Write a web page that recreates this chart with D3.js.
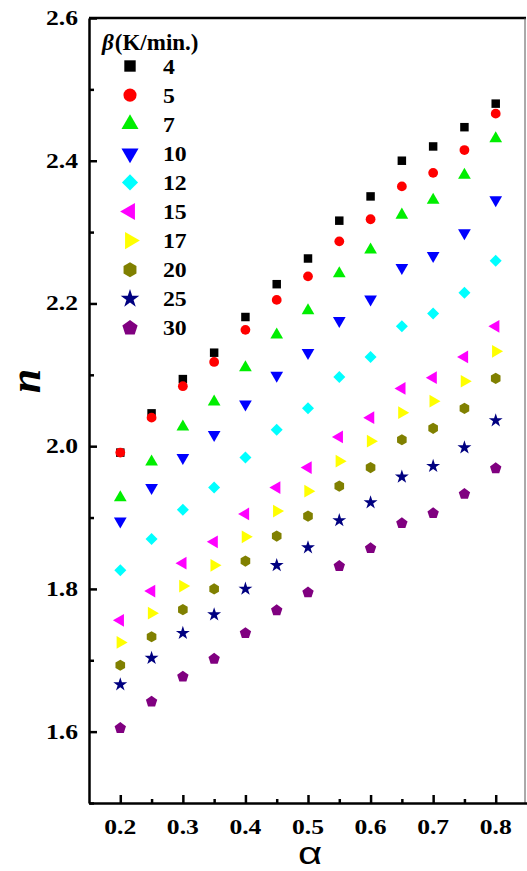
<!DOCTYPE html>
<html>
<head>
<meta charset="utf-8">
<script src="https://cdn.jsdelivr.net/npm/d3@7"></script>
<style>
  body { margin: 0; background: #fff; }
  svg { display: block; }
  .tick_lbl { font-family: "Liberation Serif", "Times New Roman", serif; font-weight: bold; font-size: 20px; }
  .leg_lbl { font-family: "Liberation Serif", "Times New Roman", serif; font-weight: bold; font-size: 22px; }
</style>
</head>
<body>
<svg id="chart" width="527" height="871"></svg>
<script>
/* Werte */
var alpha_vals = [0.20, 0.25, 0.30, 0.35, 0.40, 0.45, 0.50, 0.55, 0.60, 0.65, 0.70, 0.75, 0.80];
var beta_labels = ['4', '5', '7', '10', '12', '15', '17', '20', '25', '30'];
var n_b4  = [1.991, 2.046, 2.094, 2.131, 2.181, 2.227, 2.263, 2.316, 2.350, 2.400, 2.420, 2.447, 2.480];
var n_b5  = [1.991, 2.040, 2.084, 2.118, 2.163, 2.205, 2.238, 2.287, 2.318, 2.364, 2.383, 2.415, 2.466];
var n_b7  = [1.928, 1.978, 2.027, 2.062, 2.110, 2.156, 2.190, 2.242, 2.275, 2.324, 2.345, 2.380, 2.431];
var n_b10 = [1.895, 1.942, 1.984, 2.016, 2.059, 2.099, 2.131, 2.176, 2.206, 2.250, 2.267, 2.299, 2.345];
var n_b12 = [1.826, 1.870, 1.911, 1.942, 1.984, 2.023, 2.053, 2.097, 2.125, 2.168, 2.186, 2.215, 2.260];
var n_b15 = [1.756, 1.797, 1.836, 1.866, 1.905, 1.942, 1.970, 2.013, 2.040, 2.081, 2.096, 2.125, 2.168];
var n_b17 = [1.725, 1.766, 1.804, 1.833, 1.873, 1.909, 1.937, 1.979, 2.007, 2.047, 2.063, 2.091, 2.133];
var n_b20 = [1.693, 1.733, 1.771, 1.800, 1.839, 1.874, 1.902, 1.944, 1.970, 2.009, 2.025, 2.053, 2.095];
var n_b25 = [1.666, 1.703, 1.738, 1.764, 1.800, 1.833, 1.858, 1.896, 1.921, 1.957, 1.972, 1.998, 2.036];
var n_b30 = [1.605, 1.642, 1.677, 1.702, 1.738, 1.770, 1.795, 1.832, 1.857, 1.892, 1.906, 1.933, 1.969];
var y_ticks = [1.6, 1.8, 2.0, 2.2, 2.4, 2.6];
var x_ticks = [0.2, 0.3, 0.4, 0.5, 0.6, 0.7, 0.8];

/* regelmaessiges Vieleck als d3-Symboltyp */
function polygon_type(k, rot) {
    return {
        draw: function(ctx, size) {
            var area_factor = k / 2 * Math.sin(2 * Math.PI / k);
            var r = Math.sqrt(size / area_factor);
            for (var i = 0; i < k; i++) {
                var a = rot + i * 2 * Math.PI / k;
                var px = r * Math.sin(a), py = -r * Math.cos(a);
                if (i === 0) ctx.moveTo(px, py); else ctx.lineTo(px, py);
            }
            ctx.closePath();
        }
    };
}

var series = [
    { label: beta_labels[0], values: n_b4,  color: '#000000', type: d3.symbolSquare,  size: 72,  rotate: 0 },
    { label: beta_labels[1], values: n_b5,  color: '#ff0000', type: d3.symbolCircle,  size: 75,  rotate: 0 },
    { label: beta_labels[2], values: n_b7,  color: '#00ee00', type: d3.symbolTriangle, size: 70, rotate: 0 },
    { label: beta_labels[3], values: n_b10, color: '#0000ff', type: d3.symbolTriangle, size: 70, rotate: 180 },
    { label: beta_labels[4], values: n_b12, color: '#00ffff', type: polygon_type(4, 0), size: 72, rotate: 0 },
    { label: beta_labels[5], values: n_b15, color: '#ff00ff', type: d3.symbolTriangle, size: 70, rotate: -90 },
    { label: beta_labels[6], values: n_b17, color: '#ffff00', type: d3.symbolTriangle, size: 70, rotate: 90 },
    { label: beta_labels[7], values: n_b20, color: '#808000', type: polygon_type(6, 0), size: 80, rotate: 0 },
    { label: beta_labels[8], values: n_b25, color: '#000080', type: d3.symbolStar,    size: 60,  rotate: 0 },
    { label: beta_labels[9], values: n_b30, color: '#800080', type: polygon_type(5, 0), size: 85, rotate: 0 }
];

var svg = d3.select('#chart');

var x = d3.scaleLinear().domain([0.15, 0.85]).range([89, 527]);
var y = d3.scaleLinear().domain([1.5, 2.6]).range([803, 18]);

var sym = d3.symbol();

/* Schrift in der Vorlage ist horizontal gestreckt */
var TICK_SX = 1.28;

/* Rahmen oben und rechts */
svg.append('line').attr('x1', x(0.15)).attr('x2', 526).attr('y1', y(2.6)).attr('y2', y(2.6))
    .attr('stroke', '#000').attr('stroke-width', 2.5);
svg.append('line').attr('x1', 525).attr('x2', 525).attr('y1', y(2.6)).attr('y2', y(1.5))
    .attr('stroke', '#555').attr('stroke-width', 1);

/* Achsen, Ticks nach innen */
var y_axis = svg.append('g').attr('transform', 'translate(' + x(0.15) + ',0)')
    .call(d3.axisRight(y).tickValues(d3.range(1.5, 2.61, 0.1)).tickSize(0).tickFormat(''));
y_axis.select('.domain').attr('stroke-width', 2.5);
y_axis.selectAll('.tick').append('line')
    .attr('x2', function(d) { return Math.round(d * 10) % 2 === 0 ? 8 : 5; })
    .attr('stroke', '#000').attr('stroke-width', 2.5);

var x_axis = svg.append('g').attr('transform', 'translate(0,' + y(1.5) + ')')
    .call(d3.axisTop(x).tickValues(d3.range(0.2, 0.81, 0.05)).tickSize(0).tickFormat(''));
x_axis.select('.domain').attr('stroke-width', 2.5);
x_axis.selectAll('.tick').append('line')
    .attr('y2', function(d) { return Math.round(d * 100) % 10 === 0 ? -8 : -4; })
    .attr('stroke', '#000').attr('stroke-width', 2.5);

svg.append('g').selectAll('text').data(y_ticks).enter().append('text')
    .attr('class', 'tick_lbl')
    .attr('transform', function(d) { return 'translate(78,' + (y(d) + 7) + ') scale(' + TICK_SX + ',1)'; })
    .attr('text-anchor', 'end')
    .text(function(d) { return d.toFixed(1); });

svg.append('g').selectAll('text').data(x_ticks).enter().append('text')
    .attr('class', 'tick_lbl')
    .attr('transform', function(d) { return 'translate(' + x(d) + ',834) scale(' + TICK_SX + ',1)'; })
    .attr('text-anchor', 'middle')
    .text(function(d) { return d.toFixed(1); });

/* Achsentitel */
svg.append('text')
    .attr('transform', 'translate(40,381) rotate(-90)')
    .attr('text-anchor', 'middle')
    .style('font-family', '"Liberation Serif", serif').style('font-weight', 'bold').style('font-style', 'italic')
    .style('font-size', '44px')
    .text('n');

svg.append('text')
    .attr('transform', 'translate(310,864) scale(1.35,1)')
    .attr('text-anchor', 'middle')
    .style('font-family', '"Liberation Sans", Arial, sans-serif')
    .style('font-size', '31px')
    .text('α');

/* Datenpunkte */
var groups = svg.append('g').selectAll('g.series').data(series).enter().append('g').attr('class', 'series');
groups.each(function(s) {
    d3.select(this).selectAll('path').data(s.values).enter().append('path')
        .attr('d', sym.type(s.type).size(s.size)())
        .attr('fill', s.color)
        .attr('transform', function(v, i) {
            return 'translate(' + x(alpha_vals[i]) + ',' + y(v) + ') rotate(' + s.rotate + ')';
        });
});

/* Legende */
var legend = svg.append('g');
var title = legend.append('text').attr('x', 102).attr('y', 50)
    .style('font-family', '"Liberation Serif", serif').style('font-size', '23px').style('font-weight', 'bold');
title.append('tspan').style('font-style', 'italic').text('β');
title.append('tspan').attr('dx', 1).text('(K/min.)');

var rows = legend.selectAll('g.row').data(series).enter().append('g')
    .attr('transform', function(d, i) { return 'translate(0,' + (66 + i * 29.1) + ')'; });
rows.append('path')
    .attr('d', function(s) { return sym.type(s.type).size(s.size * 1.8)(); })
    .attr('fill', function(s) { return s.color; })
    .attr('transform', function(s) { return 'translate(130,0) rotate(' + s.rotate + ')'; });
rows.append('text')
    .attr('class', 'leg_lbl')
    .attr('transform', 'translate(163,7.5) scale(1.08,1)')
    .text(function(s) { return s.label; });
</script>
</body>
</html>
